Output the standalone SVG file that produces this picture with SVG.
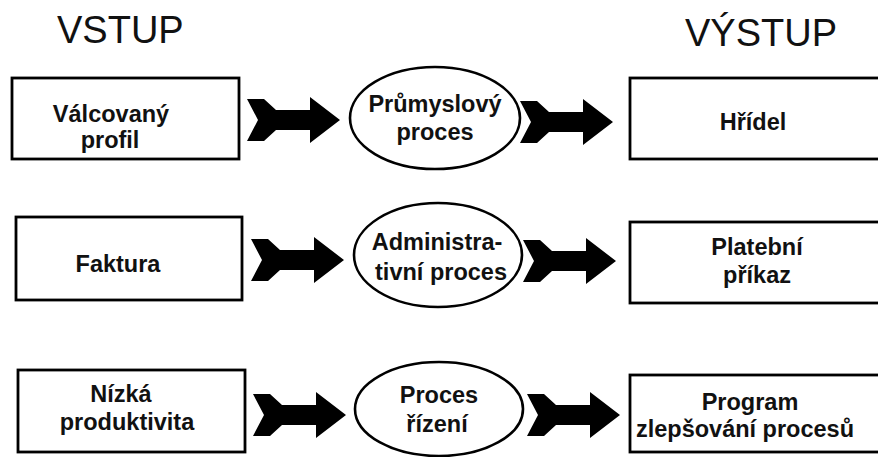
<svg xmlns="http://www.w3.org/2000/svg" width="878" height="457" viewBox="0 0 878 457">
<style>
.box{fill:#fff;stroke:#000;stroke-width:2.8}
.proc{fill:#fff;stroke:#000;stroke-width:2.6}
.t{font-family:"Liberation Sans",Arial,sans-serif;font-weight:bold;font-size:23.5px;fill:#111;text-anchor:middle}
.h{font-family:"Liberation Sans",Arial,sans-serif;font-size:38px;fill:#111}
.arr{fill:#000}
</style>
<defs>
<path id="chev" class="arr" d="M0,-21 L17,-21 L29,-10 L63,-10 L63,-23 L93,0 L63,23 L63,10 L29,10 L17,21 L0,21 L11,0 Z"/>
</defs>
<rect width="878" height="457" fill="#fff"/>
<text class="h" x="57" y="43">VSTUP</text>
<text class="h" x="685" y="46">VÝSTUP</text>
<g id="connectors">
<use href="#chev" transform="translate(247,120)"/>
<use href="#chev" transform="translate(520,122)"/>
<use href="#chev" transform="translate(251,260)"/>
<use href="#chev" transform="translate(523,261)"/>
<use href="#chev" transform="translate(253,415)"/>
<use href="#chev" transform="translate(527,415)"/>
</g>
<g id="in1"><rect class="box" x="12" y="78" width="227" height="81"/><text class="t" x="111" y="122">Válcovaný</text><text class="t" x="110" y="148">profil</text></g>
<g id="proc1"><ellipse class="proc" cx="435" cy="118" rx="85" ry="51"/><text class="t" x="435" y="112">Průmyslový</text><text class="t" x="435" y="140">proces</text></g>
<g id="out1"><rect class="box" x="630" y="78" width="262" height="81"/><text class="t" x="753" y="130">Hřídel</text></g>
<g id="in2"><rect class="box" x="16" y="217" width="226" height="83"/><text class="t" x="118" y="272">Faktura</text></g>
<g id="proc2"><ellipse class="proc" cx="438" cy="255" rx="84" ry="52"/><text class="t" x="437" y="250">Administra-</text><text class="t" x="441" y="280">tivní proces</text></g>
<g id="out2"><rect class="box" x="630" y="222" width="262" height="81"/><text class="t" x="757" y="255">Platební</text><text class="t" x="757" y="283">příkaz</text></g>
<g id="in3"><rect class="box" x="18" y="370" width="227" height="82"/><text class="t" x="121" y="402">Nízká</text><text class="t" x="127" y="430">produktivita</text></g>
<g id="proc3"><ellipse class="proc" cx="439" cy="409" rx="84" ry="47"/><text class="t" x="439" y="403">Proces</text><text class="t" x="437" y="432">řízení</text></g>
<g id="out3"><rect class="box" x="630" y="375" width="262" height="77"/><text class="t" x="750" y="410">Program</text><text class="t" x="745" y="437">zlepšování procesů</text></g>
</svg>
